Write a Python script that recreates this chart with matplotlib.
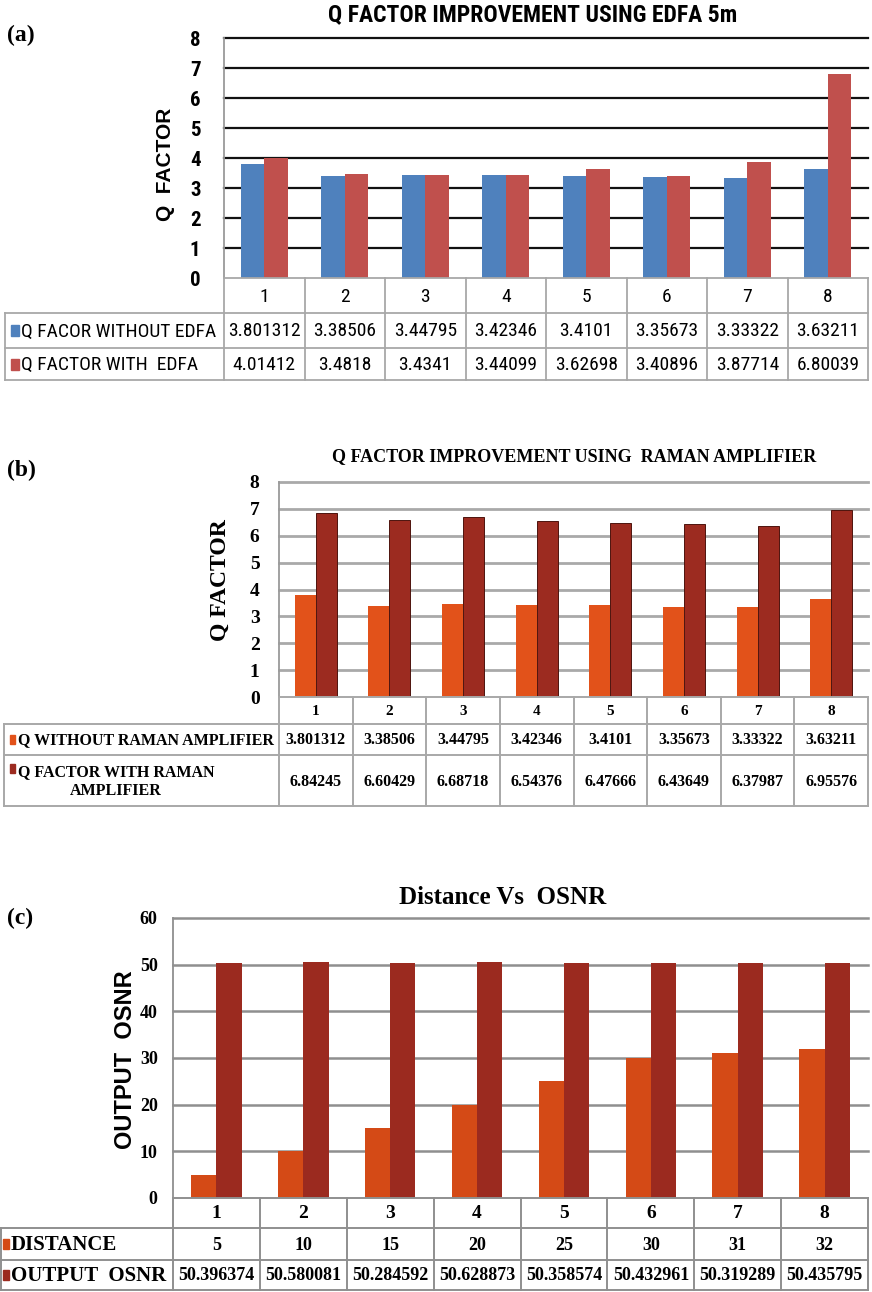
import matplotlib
matplotlib.use("Agg")
import matplotlib.pyplot as plt
import numpy as np
from matplotlib import font_manager
from matplotlib.font_manager import FontProperties
from matplotlib.transforms import Affine2D, blended_transform_factory
from matplotlib.patches import Rectangle
from matplotlib.lines import Line2D

# ---------------- data ----------------
categories = ["1", "2", "3", "4", "5", "6", "7", "8"]

q_without_edfa = [3.801312, 3.38506, 3.44795, 3.42346, 3.4101, 3.35673, 3.33322, 3.63211]
q_with_edfa = [4.01412, 3.4818, 3.4341, 3.44099, 3.62698, 3.40896, 3.87714, 6.80039]

q_without_raman = [3.801312, 3.38506, 3.44795, 3.42346, 3.4101, 3.35673, 3.33322, 3.63211]
q_with_raman = [6.84245, 6.60429, 6.68718, 6.54376, 6.47666, 6.43649, 6.37987, 6.95576]

distance = [5, 10, 15, 20, 25, 30, 31, 32]
output_osnr = [50.396374, 50.580081, 50.284592, 50.628873, 50.358574, 50.432961, 50.319289, 50.435795]

labels_a = ["Q FACOR WITHOUT EDFA", "Q FACTOR WITH  EDFA"]
labels_b = ["Q WITHOUT RAMAN AMPLIFIER", "Q FACTOR WITH RAMAN\nAMPLIFIER"]
labels_c = ["DISTANCE", "OUTPUT  OSNR"]

# ---------------- fonts ----------------
SERIF = "Liberation Serif"
SANS = "Liberation Sans"


def find_condensed():
    """Look for an installed narrow sans face (regular, bold)."""
    prefs = ["LiberationSansNarrow", "RobotoCondensed", "Roboto_Condensed",
             "DejaVuSansCondensed", "OpenSans_Condensed", "OpenSansCondensed",
             "NotoSans-Condensed", "NotoSansCondensed"]
    files = [f.fname for f in font_manager.fontManager.ttflist]
    for p in prefs:
        cand = [f for f in files if p.lower() in f.replace("-", "").lower()
                or p.lower() in f.lower()]
        if not cand:
            continue
        reg = [f for f in cand if "bold" not in f.lower() and "italic" not in f.lower()
               and "oblique" not in f.lower() and "light" not in f.lower()
               and "thin" not in f.lower() and "medium" not in f.lower()
               and "black" not in f.lower() and "semi" not in f.lower()
               and "extra" not in f.lower()]
        bold = [f for f in cand if "bold" in f.lower() and "italic" not in f.lower()
                and "oblique" not in f.lower() and "semi" not in f.lower()
                and "extra" not in f.lower()]
        if reg and bold:
            return sorted(reg, key=len)[0], sorted(bold, key=len)[0]
    return None


_cond = find_condensed()


def narrow(size, bold=False):
    if _cond is not None:
        return FontProperties(fname=_cond[1] if bold else _cond[0], size=size)
    # plain sans, scaled down to keep the narrow widths
    return FontProperties(family=SANS, size=size * 0.84,
                          weight="bold" if bold else "normal")


W, H = 872, 1292
fig = plt.figure(figsize=(W / 100, H / 100), dpi=100)
fig.patch.set_facecolor("white")

# pixel coordinates, y pointing down
PX = Affine2D().scale(1 / W, -1 / H).translate(0, 1) + fig.transFigure


def panel_axes(l, t, r, b):
    return fig.add_axes([l / W, 1 - b / H, (r - l) / W, (b - t) / H])


def style_axes(ax, yticks, grid_color, grid_lw, spine_color, tick_fp, pad):
    ax.set_xlim(-0.5, 7.5)
    ax.set_ylim(yticks[0], yticks[-1])
    ax.set_xticks([])
    ax.set_yticks(yticks)
    ax.set_yticklabels([str(v) for v in yticks])
    for t in ax.get_yticklabels():
        t.set_fontproperties(tick_fp)
    ax.tick_params(axis="y", length=0, pad=pad)
    for s in ("top", "right", "bottom"):
        ax.spines[s].set_visible(False)
    ax.spines["left"].set_color(spine_color)
    ax.spines["left"].set_linewidth(1.3)
    for v in yticks[1:]:
        ax.axhline(v, color=grid_color, lw=grid_lw, zorder=0.5, clip_on=False)


def line(x0, y0, x1, y1, transform, color, lw):
    fig.add_artist(Line2D([x0, x1], [y0, y1], transform=transform, color=color, lw=lw))


def draw_table(ax, tab_l, ax_l, ax_r, y_edges, rows, labels, colors,
               fp_head, fp_val, fp_lab, line_color, lw,
               marker_box, text_x, label_center=None):
    tr = blended_transform_factory(ax.transData, PX)
    top, head_b = y_edges[0], y_edges[1]
    bottom = y_edges[-1]
    # vertical column separators
    for e in np.arange(-0.5, 8.0, 1.0):
        line(e, top, e, bottom, tr, line_color, lw)
    line(tab_l, head_b, tab_l, bottom, PX, line_color, lw)
    # horizontal separators
    line(ax_l, top, ax_r, top, PX, line_color, lw)
    for y in y_edges[1:]:
        line(tab_l, y, ax_r, y, PX, line_color, lw)
    # header
    for i, c in enumerate(categories):
        fig.text(i, (top + head_b) / 2 + 1, c, transform=tr, ha="center", va="center",
                 fontproperties=fp_head)
    # body rows
    mw, mh, mx = marker_box
    for r, (vals, lab, col) in enumerate(zip(rows, labels, colors)):
        yt, yb = y_edges[r + 1], y_edges[r + 2]
        yc = (yt + yb) / 2
        for i, v in enumerate(vals):
            fig.text(i, yc + 1, str(v), transform=tr, ha="center", va="center",
                     fontproperties=fp_val)
        if "\n" in lab:
            first_y = yc - 12
            fig.add_artist(Rectangle((mx, first_y - mh / 2), mw, mh,
                                     transform=PX, color=col))
            fig.text(label_center, yc + 1, lab, transform=PX, ha="center", va="center",
                     multialignment="center", fontproperties=fp_lab, linespacing=1.3)
        else:
            fig.add_artist(Rectangle((mx, yc - mh / 2), mw, mh,
                                     transform=PX, color=col))
            fig.text(text_x, yc + 1, lab, transform=PX, ha="left", va="center",
                     fontproperties=fp_lab)


def serif(size):
    return FontProperties(family=SERIF, size=size, weight="bold")


x = np.arange(len(categories))
RIGHT = 868

# ---------------- (a) EDFA ----------------
A_L, A_T, A_B = 224, 38, 278
axA = panel_axes(A_L, A_T, RIGHT, A_B)
style_axes(axA, list(range(0, 9)), "#111111", 1.6, "#9a9a9a", narrow(15, True), 17)
wA = 0.29
axA.bar(x - wA / 2, q_without_edfa, wA, color="#4F81BD", zorder=2)
axA.bar(x + wA / 2, q_with_edfa, wA, color="#C0504D", zorder=2)
fig.text(533, 15, "Q FACTOR IMPROVEMENT USING EDFA 5m", transform=PX, ha="center",
         va="center", fontproperties=narrow(17, True))
fig.text(165, 164, "Q  FACTOR", transform=PX, ha="center", va="center", rotation=90,
         fontfamily=SANS, fontsize=15, fontweight="bold")
fig.text(7, 35, "(a)", transform=PX, ha="left", va="center", fontproperties=serif(17))
draw_table(axA, 5, A_L, RIGHT, [A_B, 313, 348, 380], [q_without_edfa, q_with_edfa],
           labels_a, ["#4F81BD", "#C0504D"], narrow(14), narrow(14), narrow(14),
           "#a8a8a8", 1.3, (8, 11, 11), 21)

# ---------------- (b) Raman ----------------
B_L, B_T, B_B = 279, 482, 697
axB = panel_axes(B_L, B_T, RIGHT, B_B)
style_axes(axB, list(range(0, 9)), "#a9a9a9", 2.0, "#9a9a9a", serif(14), 14)
wB = 0.286
axB.bar(x - wB / 2, q_without_raman, wB, color="#E2521A", zorder=2)
axB.bar(x + wB / 2, q_with_raman, wB, color="#9C2B20", edgecolor="#4e140d",
        linewidth=0.7, zorder=2)
fig.text(574, 457, "Q FACTOR IMPROVEMENT USING  RAMAN AMPLIFIER", transform=PX,
         ha="center", va="center", fontproperties=serif(13))
fig.text(220, 580, "Q FACTOR", transform=PX, ha="center", va="center", rotation=90,
         fontproperties=serif(17))
fig.text(7, 470, "(b)", transform=PX, ha="left", va="center", fontproperties=serif(17))
draw_table(axB, 4, B_L, RIGHT, [B_B, 724, 755, 806], [q_without_raman, q_with_raman],
           labels_b, ["#E2521A", "#9C2B20"], serif(11), serif(11.5), serif(11.5),
           "#a8a8a8", 1.4, (5, 9, 10), 18, label_center=116)

# ---------------- (c) Distance vs OSNR ----------------
C_L, C_T, C_B = 173, 918, 1198
axC = panel_axes(C_L, C_T, RIGHT, C_B)
style_axes(axC, list(range(0, 61, 10)), "#8f8f8f", 1.8, "#8f8f8f", serif(13), 11)
wC = 0.29
axC.bar(x - wC / 2, distance, wC, color="#D44A16", zorder=2)
axC.bar(x + wC / 2, output_osnr, wC, color="#9B2A1F", zorder=2)
fig.text(503, 897, "Distance Vs  OSNR", transform=PX, ha="center", va="center",
         fontproperties=serif(18))
fig.text(125, 1060, "OUTPUT  OSNR", transform=PX, ha="center", va="center",
         rotation=90, fontfamily=SANS, fontsize=17, fontweight="bold")
fig.text(7, 918, "(c)", transform=PX, ha="left", va="center", fontproperties=serif(17))
draw_table(axC, 1, C_L, RIGHT, [C_B, 1228, 1260, 1290], [distance, output_osnr],
           labels_c, ["#D44A16", "#9B2A1F"], serif(14), serif(13), serif(15),
           "#8f8f8f", 1.4, (6, 10, 3), 11)

fig.savefig("out.png", dpi=100, facecolor="white")
